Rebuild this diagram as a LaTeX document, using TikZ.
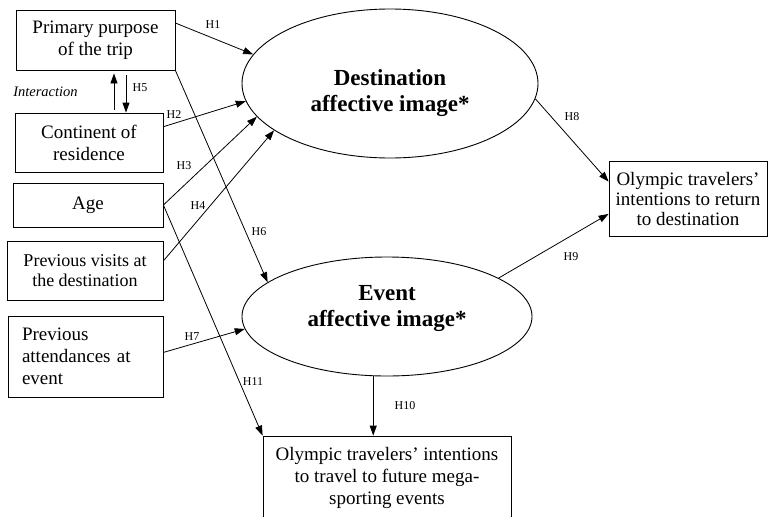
\documentclass[tikz,border=0pt]{standalone}
\usepackage{fontspec}
\setmainfont{Liberation Serif}
\usepackage{tikz}
\usetikzlibrary{arrows.meta,shapes.geometric,calc}

\begin{document}
\begin{tikzpicture}[x=1pt,y=-1pt,
          every node/.style={font=\fontsize{19}{22}\selectfont},
          box/.style={draw,line width=0.8pt,inner sep=0pt,align=center},
          oval/.style={draw,ellipse,line width=0.9pt,inner sep=0pt},
          big/.style={font=\bfseries\fontsize{23}{26}\selectfont,align=center},
          hyp/.style={font=\fontsize{12}{14}\selectfont},
          ar/.style={-{Triangle[length=10pt,width=7pt]},line width=0.8pt}]
        \useasboundingbox (0,0) rectangle (769,517);
        % antecedents
        \node[box,minimum width=159pt,minimum height=60pt]
        (purpose) at (95.5,40) {Primary purpose\\of the trip};
        \node[box,minimum width=148pt,minimum height=59pt]
        (continent) at (89,142.5) {Continent of\\residence};
        \node[box,minimum width=150pt,minimum height=44pt]
        (age) at (88,205) {Age};
        \node[box,minimum width=156pt,minimum height=59pt,
          font=\fontsize{18}{20}\selectfont]
        (visits) at (85,270.5) {Previous visits at\\the destination};
        \node[box,minimum width=155pt,minimum height=81pt,align=left,
          text width=127pt,inner xsep=14pt]
        (attend) at (85.5,356.5) {Previous\\attendances at\\event};
        % images
        \node[oval,minimum width=296pt,minimum height=149pt]
        (destimg) at (390,83.5) {};
        \node[big] (desttxt) at ([yshift=-10pt]destimg.center)
        {Destination\\affective image*};
        \node[oval,minimum width=290pt,minimum height=119pt]
        (eventimg) at (387,316.5) {};
        \node[big] (evtxt) at ([yshift=8pt]eventimg.center)
        {Event\\affective image*};
        % outcomes
        \node[box,minimum width=158pt,minimum height=75pt,
          font=\fontsize{19}{20}\selectfont]
        (ret) at (688,198.5)
        {Olympic travelers'\\intentions to return\\to destination};
        \node[box,minimum width=248pt,minimum height=84pt]
        (future) at (387,478)
        {Olympic travelers' intentions\\to travel to future mega-\\sporting events};
        % paths
        \draw[ar](purpose.12)--(destimg.168);
        \draw[ar](continent.12)--(destimg.187);
        \draw[ar](age.east)--(destimg.194);
        \draw[ar](visits.7)--(destimg.202);
        \draw[ar,shorten <=3pt,shorten >=3pt]([xshift=25pt]continent.north)
          --([xshift=25pt]continent.north |- purpose.south);
        \draw[ar,shorten <=5pt]([xshift=30.5pt]purpose.south)
          --([xshift=30.5pt]purpose.south |- continent.north);
        \draw[ar](purpose.south east)--(eventimg.164);
        \draw[ar](attend.3)--(eventimg.185);
        \draw[ar](destimg.-6)--(ret.168);
        \draw[ar](eventimg.19)--(ret.191);
        \draw[ar](eventimg.257)--(eventimg.257 |- future.north);
        \draw[ar](age.east)--(future.north west);
        % labels
        \node[hyp] (h1) at (213,25) {H1};
        \node[hyp] (h2) at (174,115) {H2};
        \node[hyp] (h3) at (184,166) {H3};
        \node[hyp] (h4) at (198,206) {H4};
        \node[hyp] (h5) at (140,88) {H5};
        \node[hyp] (h6) at (259,232) {H6};
        \node[hyp] (h7) at (192,337) {H7};
        \node[hyp] (h8) at (572,117) {H8};
        \node[hyp] (h9) at (571,257) {H9};
        \node[hyp] (h10) at (405,406) {H10};
        \node[hyp] (h11) at (253,382) {H11};
        \node[font=\itshape\fontsize{14.5}{16}\selectfont]
        (interact) at (45.5,92) {Interaction};
      \end{tikzpicture}
\end{document}
